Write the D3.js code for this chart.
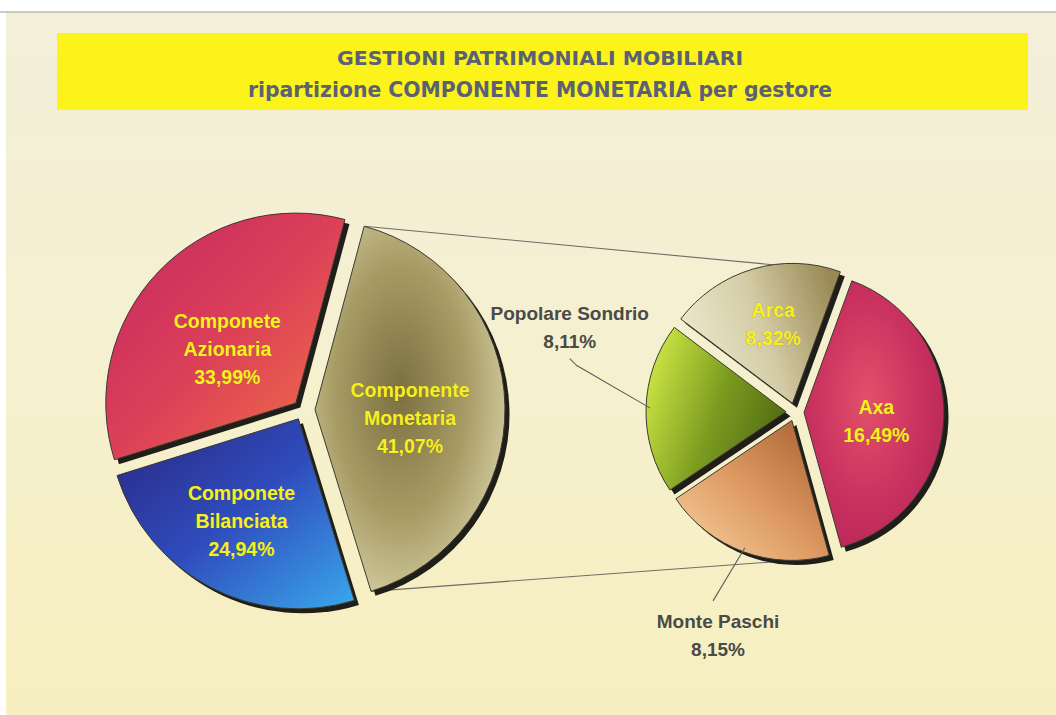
<!DOCTYPE html>
<html>
<head>
<meta charset="utf-8">
<script src="https://cdn.jsdelivr.net/npm/d3@7"></script>
<style>
  body { margin: 0; background: #ffffff; }
  svg { display: block; }
</style>
</head>
<body>
<div id="viz"></div>
<script>
// Title lines of the slide
const TITLE_LINES = ["GESTIONI PATRIMONIALI MOBILIARI", "ripartizione COMPONENTE MONETARIA  per gestore"];

// Main pie: portfolio components (clockwise from the exploded slice)
const COMPONENTS = ["Componente Monetaria", "Componete Bilanciata", "Componete Azionaria"];
const COMPONENT_VALUES = [41.07, 24.94, 33.99];

// Secondary pie: split of the money-market component by manager
const MANAGERS = ["Axa", "Monte Paschi", "Popolare Sondrio", "Arca"];
const MANAGER_VALUES = [16.49, 8.15, 8.11, 8.32];

const W = 1056, H = 715;
const DEG = Math.PI / 180;
const fmtPct = v => d3.format(".2f")(v).replace(".", ",") + "%";

// gradient stops per slice
const FILLS = {
  "Componente Monetaria": { type: "radial", stops: ["#7a7040", "#a89c66", "#e4dfb8"] },
  "Componete Bilanciata": { type: "linear", dir: [0, 0, 1, 1], stops: ["#2a2680", "#2f4cbc", "#3aa8ec"] },
  "Componete Azionaria": { type: "linear", dir: [0, 0, 1, 1], stops: ["#c42660", "#dc4058", "#f27444"] },
  "Axa": { type: "radial", stops: ["#e2506a", "#cc3460", "#b22258"] },
  "Monte Paschi": { type: "linear", dir: [1, 0, 0, 1], stops: ["#a45c2e", "#dc9860", "#f8d4a2"] },
  "Popolare Sondrio": { type: "linear", dir: [0, 0.3, 1, 0.7], stops: ["#cce444", "#7c9c20", "#4e6612"] },
  "Arca": { type: "linear", dir: [0, 0.6, 1, 0.3], stops: ["#eeeacf", "#d4cca6", "#998954"] }
};

// where each label sits: inside slices use centroid radius factor (+ nudge), outside use angle/radius
const LABELS = {
  "Componente Monetaria": { k: 0.5, dx: 0, dy: 10 },
  "Componete Bilanciata": { k: 0.62, dx: -2, dy: -2 },
  "Componete Azionaria": { k: 0.47, dx: -4, dy: 8 },
  "Axa": { k: 0.56, dx: -6, dy: 6 },
  "Arca": { k: 0.66, dx: 7, dy: 9 },
  "Popolare Sondrio": { out: true, angle: 291.5, k: 1.66, lead: [[0, 32], [7, 39]] },
  "Monte Paschi": { out: true, angle: 199, k: 1.62, lead: [[-5, -34]] }
};

const svg = d3.select("#viz").append("svg").attr("width", W).attr("height", H);
const defs = svg.append("defs");

// background paper
const bg = defs.append("linearGradient").attr("id", "paper")
  .attr("x1", 0).attr("y1", 0).attr("x2", 0).attr("y2", 1);
bg.append("stop").attr("offset", 0).attr("stop-color", "#f3efd9");
bg.append("stop").attr("offset", 0.5).attr("stop-color", "#f5f0cf");
bg.append("stop").attr("offset", 1).attr("stop-color", "#f7efbf");

svg.append("rect").attr("x", 6).attr("y", 12).attr("width", W - 6).attr("height", H - 12)
  .attr("fill", "url(#paper)");
svg.append("line").attr("x1", 0).attr("x2", W).attr("y1", 12).attr("y2", 12)
  .attr("stroke", "#9a9a92").attr("stroke-width", 1);

// title banner
svg.append("rect").attr("x", 57).attr("y", 33).attr("width", 971).attr("height", 77)
  .attr("fill", "#fbf31a");
const titleSizes = [{ y: 65, w: 406, size: 20 }, { y: 97, w: 584, size: 22 }];
TITLE_LINES.forEach((t, i) => {
  svg.append("text")
    .attr("x", 540).attr("y", titleSizes[i].y)
    .attr("text-anchor", "middle")
    .attr("font-family", "'Liberation Sans Narrow', 'Arial Narrow', 'DejaVu Sans Condensed', sans-serif")
    .attr("font-weight", "bold")
    .attr("font-size", titleSizes[i].size)
    .attr("fill", "#5c6074")
    .attr("textLength", titleSizes[i].w)
    .attr("lengthAdjust", "spacingAndGlyphs")
    .text(t);
});

// gradients
Object.entries(FILLS).forEach(([name, f], i) => {
  const id = "g" + i;
  f.id = id;
  let g;
  if (f.type === "radial") {
    g = defs.append("radialGradient").attr("id", id).attr("cx", 0.45).attr("cy", 0.45).attr("r", 0.7);
  } else {
    g = defs.append("linearGradient").attr("id", id)
      .attr("x1", f.dir[0]).attr("y1", f.dir[1]).attr("x2", f.dir[2]).attr("y2", f.dir[3]);
  }
  f.stops.forEach((c, j) => g.append("stop")
    .attr("offset", j / (f.stops.length - 1)).attr("stop-color", c));
});

function buildPie(names, values, opts) {
  const pie = d3.pie().sort(null).value(d => d.value)
    .startAngle(opts.start * DEG).endAngle(opts.start * DEG + 2 * Math.PI);
  const arcs = pie(names.map((n, i) => ({ name: n, value: values[i] })));
  arcs.forEach(a => {
    const mid = (a.startAngle + a.endAngle) / 2;
    const off = opts.explode[a.data.name] ?? opts.explodeDefault;
    a.cx = opts.cx + off * Math.sin(mid);
    a.cy = opts.cy - off * Math.cos(mid);
    a.mid = mid;
  });
  return arcs;
}

const LEFT = { cx: 303, cy: 410, r: 190, start: 15, explode: { "Componente Monetaria": 12 }, explodeDefault: 10 };
const RIGHT = { cx: 795, cy: 412, r: 140, start: 20, explode: {}, explodeDefault: 9 };

const leftArcs = buildPie(COMPONENTS, COMPONENT_VALUES, LEFT);
const rightArcs = buildPie(MANAGERS, MANAGER_VALUES, RIGHT);

const pointAt = (a, r, ang) => [a.cx + r * Math.sin(ang), a.cy - r * Math.cos(ang)];

// connector lines from the exploded slice to the secondary pie
const mon = leftArcs[0];
const arca = rightArcs.find(a => a.data.name === "Arca");
const mp = rightArcs.find(a => a.data.name === "Monte Paschi");
const connectors = [
  [pointAt(mon, LEFT.r, mon.startAngle), pointAt(arca, RIGHT.r, 352 * DEG)],
  [pointAt(mon, LEFT.r, mon.endAngle), pointAt(mp, RIGHT.r, 172 * DEG)]
];
svg.append("g").selectAll("line").data(connectors).join("line")
  .attr("x1", d => d[0][0]).attr("y1", d => d[0][1])
  .attr("x2", d => d[1][0]).attr("y2", d => d[1][1])
  .attr("stroke", "#6e6e66").attr("stroke-width", 1.1);

function drawPie(arcs, r) {
  const arc = d3.arc().innerRadius(0).outerRadius(r);
  const g = svg.append("g");
  // drop shadow
  g.selectAll("path.shadow").data(arcs).join("path")
    .attr("class", "shadow")
    .attr("transform", d => `translate(${d.cx + 4.5},${d.cy + 4.5})`)
    .attr("d", arc)
    .attr("fill", "#1f1e18");
  g.selectAll("path.slice").data(arcs).join("path")
    .attr("class", "slice")
    .attr("transform", d => `translate(${d.cx},${d.cy})`)
    .attr("d", arc)
    .attr("fill", d => `url(#${FILLS[d.data.name].id})`)
    .attr("stroke", "#3a3a30").attr("stroke-width", 1);
}
drawPie(leftArcs, LEFT.r);
drawPie(rightArcs, RIGHT.r);

// labels
const LINE_H = 28;
function drawLabels(arcs, r) {
  arcs.forEach(a => {
    const cfg = LABELS[a.data.name];
    const lines = cfg.out
      ? [a.data.name, fmtPct(a.data.value)]
      : [...a.data.name.split(" "), fmtPct(a.data.value)];
    const ang = cfg.out ? cfg.angle * DEG : a.mid;
    let [x, y] = pointAt(a, r * cfg.k, ang);
    x += cfg.dx || 0;
    y += cfg.dy || 0;
    const n = lines.length;
    const t = svg.append("text")
      .attr("text-anchor", "middle")
      .attr("font-family", "'Liberation Sans', Arial, sans-serif")
      .attr("font-weight", "bold")
      .attr("font-size", cfg.out ? 19 : 19.5)
      .attr("fill", cfg.out ? "#4a4a46" : "#f6f01e");
    if (!cfg.out) {
      t.attr("stroke", "rgba(110,90,20,0.4)").attr("stroke-width", 0.7).attr("paint-order", "stroke");
    }
    lines.forEach((ln, i) => {
      t.append("tspan").attr("x", x).attr("y", y + (i - (n - 1) / 2) * LINE_H + 7).text(ln);
    });
    if (cfg.out) {
      const end = pointAt(a, r * 0.97, a.mid);
      const pts = cfg.lead.map(p => [x + p[0], y + p[1]]).concat([end]);
      svg.append("path")
        .attr("d", d3.line()(pts))
        .attr("fill", "none").attr("stroke", "#5e5e58").attr("stroke-width", 1.1);
    }
  });
}
drawLabels(leftArcs, LEFT.r);
drawLabels(rightArcs, RIGHT.r);
</script>
</body>
</html>
